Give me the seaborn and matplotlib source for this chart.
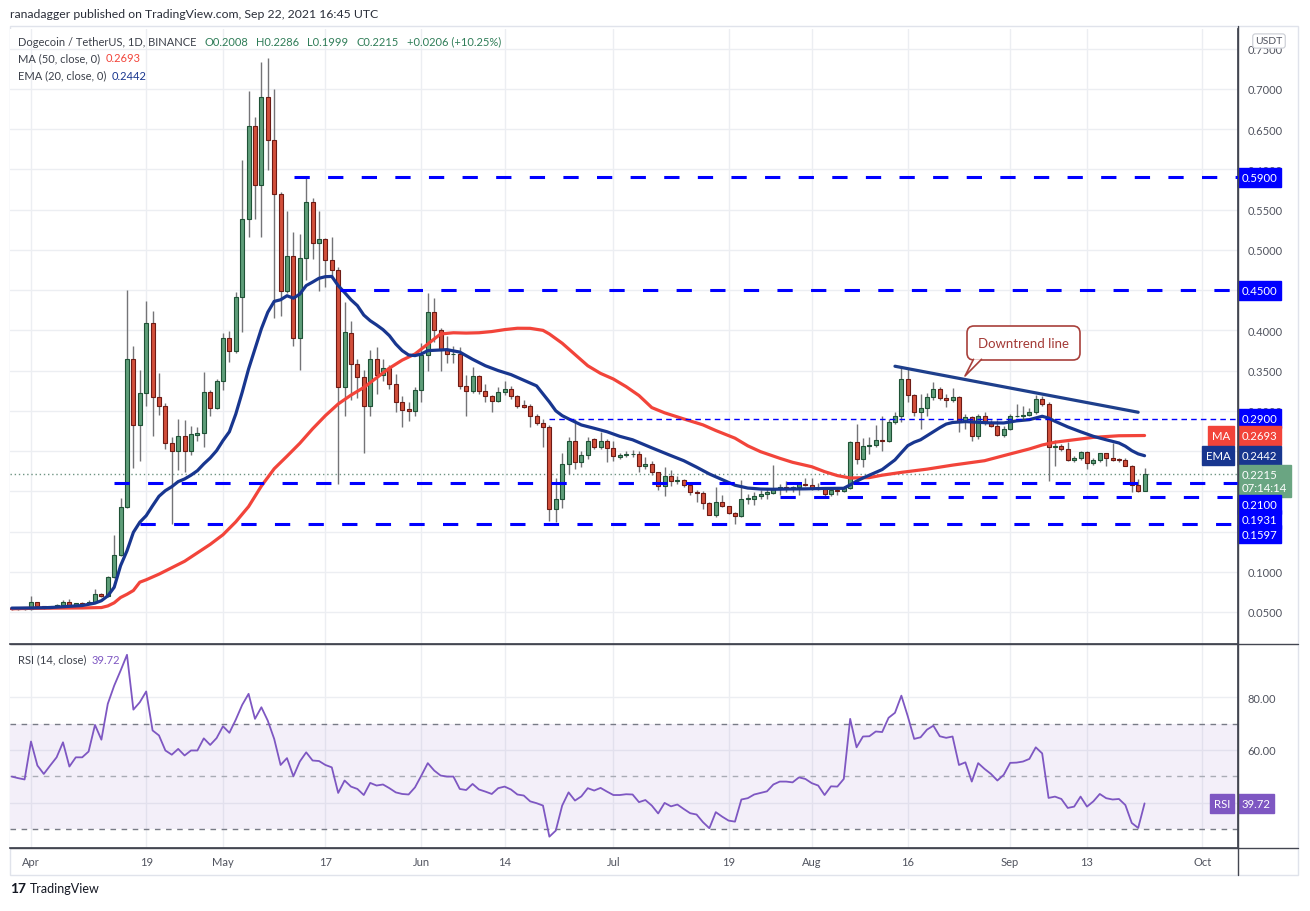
import matplotlib
matplotlib.use("Agg")
import matplotlib.pyplot as plt
from matplotlib.patches import FancyBboxPatch, Polygon, Rectangle
from matplotlib.lines import Line2D
import numpy as np
import pandas as pd
import seaborn as sns

# daily candles, 2021-03-29 .. 2021-09-22
open_ = [.0545, .0540, .0545, .0540, .0620, .0570, .0550, .0570, .0590, .0630,
         .0590, .0610, .0600, .0630, .0725, .0700, .0940, .1205, .1810, .3650,
         .2820, .3220, .4090, .3170, .3060, .2600, .2500, .2690, .2500, .2700,
         .2720, .3230, .3040, .3370, .3900, .3740, .4410, .5380, .6540, .5810,
         .6900, .6370, .5700, .4490, .4930, .3910, .4900, .5590, .5080, .5140,
         .4870, .4750, .3290, .3970, .3580, .3420, .3060, .3650, .3450, .3530,
         .3330, .3110, .3020, .3000, .3255, .3690, .4225, .4000, .3760, .3700,
         .3710, .3305, .3250, .3430, .3250, .3180, .3120, .3230, .3270, .3190,
         .3070, .3060, .2930, .2845, .2800, .1780, .1900, .2335, .2630, .2370,
         .2450, .2646, .2555, .2630, .2534, .2430, .2450, .2460, .2460, .2310,
         .2340, .2236, .2060, .2186, .2132, .2145, .2078, .1990, .1977, .1855,
         .1710, .1863, .1813, .1726, .1697, .1904, .1910, .1940, .1967, .1980,
         .2030, .2050, .2045, .2050, .2090, .2075, .2037, .2030, .1960, .2016,
         .2000, .2037, .2610, .2400, .2560, .2575, .2640, .2630, .2857, .2930,
         .3396, .3197, .2980, .3035, .3168, .3270, .3155, .3140, .3168, .2878,
         .2920, .2683, .2940, .2850, .2810, .2704, .2774, .2930, .2940, .2950,
         .2980, .3147, .3085, .2547, .2560, .2526, .2390, .2410, .2490, .2352,
         .2393, .2470, .2410, .2400, .2393, .2318, .2078, .2008]
high_ = [.0560, .0555, .0550, .0700, .0630, .0580, .0575, .0595, .0650, .0660,
         .0615, .0625, .0650, .0790, .0740, .0950, .1457, .1920, .4500, .3800,
         .3510, .4360, .4240, .3470, .3100, .2680, .2900, .2890, .2810, .2800,
         .3480, .3260, .3400, .3970, .3990, .4480, .6120, .6970, .6650, .7330,
         .7390, .7000, .5720, .5480, .5220, .5200, .5890, .5640, .5480, .5150,
         .5160, .4790, .4350, .4110, .3640, .3510, .3750, .3790, .3640, .3570,
         .3460, .3180, .3110, .3300, .3840, .4470, .4400, .4030, .3930, .3800,
         .3790, .3440, .3540, .3440, .3330, .3200, .3290, .3375, .3310, .3200,
         .3130, .3080, .2960, .2900, .2820, .2170, .2480, .2680, .2900, .2500,
         .2670, .2660, .2740, .2650, .2620, .2480, .2500, .2510, .2500, .2420,
         .2380, .2236, .2300, .2270, .2186, .2150, .2090, .2010, .2000, .1870,
         .2050, .1950, .1820, .1740, .2140, .1960, .1990, .2010, .2030, .2327,
         .2090, .2130, .2070, .2110, .2160, .2170, .2100, .2035, .2035, .2035,
         .2070, .2630, .2840, .2660, .2670, .2820, .2940, .2900, .2990, .3540,
         .3520, .3210, .3210, .3220, .3360, .3290, .3210, .3280, .3190, .2960,
         .2940, .2960, .2990, .2890, .2890, .2810, .2960, .3085, .3055, .3040,
         .3197, .3190, .3115, .2642, .2590, .2610, .2440, .2500, .2500, .2410,
         .2480, .2480, .2600, .2410, .2410, .2330, .2152, .2286]
low_ = [.0530, .0530, .0520, .0530, .0560, .0540, .0545, .0565, .0585, .0570,
        .0585, .0595, .0595, .0620, .0690, .0690, .0920, .1190, .1790, .2290,
        .2380, .3060, .2690, .2950, .2520, .1590, .2270, .2240, .2455, .2620,
        .2550, .2940, .3020, .3260, .3610, .3720, .3980, .5160, .5380, .5160,
        .5990, .4150, .4180, .4470, .3810, .3510, .4630, .4890, .4490, .4540,
        .4680, .2090, .2930, .3130, .3160, .2470, .2940, .3210, .3370, .3270,
        .2990, .2800, .2870, .2930, .3110, .3500, .3860, .3490, .3590, .3600,
        .3270, .2940, .3220, .3210, .3110, .2990, .3110, .3200, .3150, .3040,
        .3040, .2795, .2820, .2550, .1635, .1620, .1790, .2215, .2280, .2300,
        .2400, .2530, .2530, .2368, .2380, .2400, .2430, .2420, .2244, .2280,
        .2200, .2010, .1946, .2070, .2090, .2050, .1954, .1863, .1780, .1700,
        .1677, .1800, .1720, .1594, .1677, .1840, .1830, .1900, .1900, .1970,
        .1950, .1990, .1990, .1950, .2060, .2020, .2010, .1925, .1946, .1950,
        .1990, .2030, .2340, .2300, .2460, .2550, .2505, .2610, .2840, .2857,
        .3106, .2940, .2774, .2940, .3135, .3130, .3050, .3110, .2733, .2770,
        .2630, .2650, .2820, .2800, .2690, .2680, .2758, .2920, .2900, .2940,
        .2960, .3055, .2132, .2318, .2500, .2380, .2370, .2390, .2277, .2330,
        .2370, .2318, .2380, .2370, .2310, .1987, .1985, .1999]
close_ = [.0540, .0545, .0540, .0620, .0570, .0550, .0570, .0590, .0630, .0590,
          .0610, .0600, .0630, .0725, .0700, .0940, .1205, .1810, .3650, .2820,
          .3220, .4090, .3170, .3060, .2600, .2500, .2690, .2500, .2710, .2720,
          .3230, .3040, .3370, .3900, .3740, .4410, .5380, .6540, .5810, .6900,
          .6370, .5700, .4490, .4930, .3910, .4900, .5590, .5080, .5140, .4870,
          .4750, .3290, .3980, .3580, .3420, .3060, .3650, .3450, .3530, .3330,
          .3110, .3010, .3000, .3255, .3690, .4225, .4000, .3760, .3700, .3710,
          .3305, .3250, .3430, .3250, .3180, .3120, .3230, .3270, .3190, .3060,
          .3050, .2930, .2845, .2795, .1780, .1900, .2335, .2630, .2370, .2450,
          .2630, .2555, .2630, .2534, .2435, .2450, .2460, .2465, .2310, .2340,
          .2236, .2060, .2186, .2132, .2145, .2078, .1987, .1977, .1855, .1710,
          .1863, .1813, .1726, .1697, .1904, .1910, .1940, .1967, .1987, .2030,
          .2050, .2045, .2048, .2090, .2075, .2037, .2030, .1960, .2016, .2000,
          .2037, .2610, .2400, .2560, .2575, .2640, .2630, .2857, .2930, .3396,
          .3197, .2980, .3035, .3168, .3270, .3155, .3140, .3168, .2878, .2920,
          .2683, .2940, .2850, .2810, .2704, .2774, .2930, .2940, .2950, .2980,
          .3147, .3085, .2547, .2560, .2526, .2390, .2410, .2490, .2352, .2393,
          .2470, .2410, .2393, .2393, .2318, .2078, .2008, .2215]

rsi_vals = [49.9, 49.3, 48.8, 63.2, 54.1, 50.9, 54.1, 57.2, 62.9, 53.7,
            57.2, 57.2, 59.4, 69.5, 63.9, 77.5, 84.4, 90.1, 96.1, 75.3,
            78.1, 82.2, 67.4, 65.5, 59.8, 58.2, 60.4, 57.9, 59.8, 59.8,
            64.4, 61.9, 64.5, 69.0, 66.5, 71.5, 77.1, 81.3, 71.8, 76.2,
            71.1, 64.2, 54.3, 56.9, 50.0, 55.6, 59.1, 56.0, 55.8, 54.3,
            53.4, 43.7, 48.4, 46.1, 45.2, 42.9, 47.5, 46.5, 46.9, 45.5,
            43.9, 43.3, 43.1, 45.8, 50.3, 55.0, 52.2, 50.3, 49.9, 49.9,
            45.2, 44.8, 47.1, 45.0, 44.2, 43.3, 45.5, 46.1, 45.0, 43.1,
            42.7, 40.5, 39.8, 38.9, 27.1, 29.4, 38.9, 43.9, 40.8, 42.4,
            45.5, 44.6, 45.6, 44.2, 42.9, 42.9, 43.2, 43.1, 40.2, 41.0,
            38.9, 35.9, 39.9, 38.6, 39.3, 37.6, 36.0, 35.5, 32.6, 30.3,
            36.4, 34.7, 33.2, 32.8, 41.2, 41.7, 43.1, 43.7, 44.3, 46.9,
            48.0, 48.0, 47.7, 49.6, 49.0, 47.4, 46.5, 42.9, 46.2, 46.1,
            49.0, 71.8, 61.0, 65.1, 65.2, 67.0, 66.8, 72.2, 74.1, 80.6,
            72.8, 64.2, 64.8, 67.7, 69.2, 65.2, 64.6, 65.1, 54.3, 55.3,
            48.0, 55.0, 52.8, 50.9, 48.4, 50.6, 55.1, 55.2, 55.6, 56.6,
            61.0, 58.7, 41.8, 42.3, 41.4, 38.0, 38.5, 42.3, 38.5, 40.5,
            43.3, 41.7, 41.2, 41.4, 39.1, 32.3, 30.4, 39.72]

# moving averages (day offset from Apr 1, value)
ema_days = [-3, 0, 3, 6, 8, 10, 11, 12, 13, 14, 15, 16, 17, 18, 19, 20, 21, 22, 23, 24,
            25, 26, 27, 28, 29, 30, 31, 32, 33, 34, 35, 36, 37, 38, 39, 40, 41, 42, 43, 44,
            45, 46, 47, 48, 49, 50, 51, 52, 53, 54, 55, 56, 57, 58, 59, 60, 61, 62, 63, 65,
            67, 69, 71, 73, 75, 77, 79, 81, 82, 83, 84, 86, 88, 90, 92, 94, 97, 100, 102, 104,
            106, 108, 110, 112, 114, 116, 118, 121, 124, 127, 128, 129, 130, 131, 132, 133, 134, 135, 136, 137,
            138, 139, 140, 141, 142, 143, 144, 146, 148, 150, 152, 154, 156, 158, 159, 160, 162, 164, 166, 168,
            170, 171, 172, 173, 174]
ema_vals = [.0548, .0550, .0555, .0570, .0580, .0610, .0640, .0700, .0807, .1076, .1260, .1490, .1615, .1697, .1820, .1938, .2008, .2057, .2120, .2153,
            .2200, .2256, .2340, .2414, .2505, .2630, .2740, .2960, .3230, .3520, .3770, .4020, .4225, .4360, .4380, .4430, .4400, .4450, .4556, .4600,
            .4647, .4667, .4670, .4556, .4470, .4380, .4307, .4190, .4120, .4067, .4009, .3934, .3830, .3748, .3694, .3686, .3706, .3748, .3752, .3760,
            .3730, .3640, .3560, .3500, .3450, .3380, .3310, .3110, .3000, .2940, .2900, .2824, .2783, .2740, .2683, .2640, .2540, .2443, .2380, .2300,
            .2215, .2145, .2075, .2040, .2028, .2025, .2028, .2030, .2035, .2037, .2080, .2125, .2165, .2200, .2235, .2270, .2330, .2390, .2480, .2567,
            .2610, .2640, .2690, .2740, .2790, .2835, .2855, .2866, .2857, .2850, .2849, .2875, .2890, .2932, .2910, .2870, .2800, .2740, .2683, .2640,
            .2600, .2560, .2505, .2465, .2442]
ma_days = [-3, 0, 4, 8, 11, 12, 13, 14, 15, 16, 17, 18, 20, 22, 24, 26, 28, 30, 32, 34,
           36, 38, 40, 42, 44, 46, 48, 50, 52, 54, 56, 58, 60, 62, 64, 66, 68, 70, 72, 74,
           76, 78, 80, 81, 83, 85, 87, 89, 91, 93, 95, 97, 99, 102, 105, 107, 110, 112, 114, 117,
           119, 122, 124, 126, 128, 131, 133, 136, 140, 144, 149, 153, 156, 158, 160, 163, 166, 170, 174]
ma_vals = [.0540, .0545, .0548, .0550, .0555, .0575, .0614, .0680, .0720, .0767, .0870, .0900, .0970, .1050, .1130, .1235, .1340, .1460, .1620, .1810,
           .2065, .2280, .2436, .2596, .2776, .2940, .3085, .3195, .3290, .3410, .3530, .3630, .3706, .3830, .3955, .3970, .3966, .3970, .3985, .4009,
           .4026, .4025, .4000, .3955, .3840, .3700, .3560, .3465, .3395, .3300, .3190, .3040, .2975, .2899, .2825, .2755, .2660, .2565, .2492, .2410,
           .2360, .2305, .2244, .2195, .2165, .2170, .2200, .2235, .2275, .2325, .2380, .2464, .2526, .2575, .2610, .2640, .2670, .2690, .2693]

# horizontal levels: value, first day drawn (offset from Apr 1)
level_vals = [0.5900, 0.4500, 0.2100, 0.1931, 0.1597]
level_start = [41.1, 48.3, 13.0, 117.0, 17.0]
thin_level = 0.2900
thin_start = 81.0
trend_days = [135, 173]
trend_vals = [0.3554, 0.2982]

price_ticks = [0.05, 0.10, 0.15, 0.20, 0.25, 0.30, 0.35, 0.40, 0.45, 0.50, 0.55, 0.60, 0.65, 0.70, 0.75]
# labels that sit under a tag box are not shown on the original
price_tick_labels = ["0.0500", "0.1000", "", "", "", "0.3000", "0.3500", "0.4000", "",
                     "0.5000", "0.5500", "0.6000", "0.6500", "0.7000", "0.7500"]
tick_dates = ["2021-04-01", "2021-04-19", "2021-05-01", "2021-05-17", "2021-06-01", "2021-06-14",
              "2021-07-01", "2021-07-19", "2021-08-01", "2021-08-16", "2021-09-01", "2021-09-13", "2021-10-01"]
tick_labels = ["Apr", "19", "May", "17", "Jun", "14", "Jul", "19", "Aug", "16", "Sep", "13", "Oct"]

W, H = 1310, 912
GREEN, GREEN_EDGE = "#5e9e79", "#1f5236"
RED, RED_EDGE = "#d24f3b", "#6e1b15"
MA_RED, EMA_BLUE, LEVEL_BLUE, RSI_PURPLE = "#f2443a", "#18368f", "#0000ff", "#7e57c2"
AXIS_DARK, TXT = "#434651", "#50535e"


def fx(px):
    return px / W


def fy(py):
    return 1 - py / H


def px_to_in(x, y):
    return x / 100, (H - y) / 100


day0 = pd.Timestamp("2021-04-01")
dates = pd.date_range("2021-03-29", periods=len(close_), freq="D")
o, h, l, c = (np.array(v) for v in (open_, high_, low_, close_))
up = c >= o
body_lo = np.minimum(o, c)
body_h = np.maximum(np.abs(c - o), 0.0009)
ema_dates = day0 + pd.to_timedelta(ema_days, unit="D")
ma_dates = day0 + pd.to_timedelta(ma_days, unit="D")
x0 = day0 + pd.Timedelta(days=-3.28)
x1 = day0 + pd.Timedelta(days=188.6)

sns.set_theme(style="white")
plt.rcParams["font.family"] = ["Lato", "DejaVu Sans"]

fig = plt.figure(figsize=(W / 100, H / 100), dpi=100)
ax = fig.add_axes([fx(10), fy(645), (1238 - 10) / W, 615 / H])
axr = fig.add_axes([fx(10), fy(849), (1238 - 10) / W, 204 / H], sharex=ax)

# ---- price panel
ax.vlines(dates, l, h, color="#747477", lw=1, zorder=2)
ax.bar(dates[up], body_h[up], bottom=body_lo[up], width=0.62, color=GREEN,
       edgecolor=GREEN_EDGE, linewidth=0.8, zorder=3)
ax.bar(dates[~up], body_h[~up], bottom=body_lo[~up], width=0.62, color=RED,
       edgecolor=RED_EDGE, linewidth=0.8, zorder=3)
sns.lineplot(x=ma_dates, y=ma_vals, ax=ax, color=MA_RED, linewidth=2.3, zorder=4)
sns.lineplot(x=ema_dates, y=ema_vals, ax=ax, color=EMA_BLUE, linewidth=2.3, zorder=4)
sns.lineplot(x=day0 + pd.to_timedelta(trend_days, unit="D"), y=trend_vals, ax=ax,
             color="#1e3f8c", linewidth=2.3, zorder=5)

for v, s in zip(level_vals, level_start):
    ax.hlines(v, day0 + pd.Timedelta(days=s), x1, color=LEVEL_BLUE, lw=2.2,
              linestyles=[(0, (5, 6))], zorder=5)
ax.hlines(thin_level, day0 + pd.Timedelta(days=thin_start), x1, color=LEVEL_BLUE, lw=1.0,
          linestyles=[(0, (4, 3))], zorder=5)
ax.axhline(close_[-1], color="#6f9483", lw=1, ls=(0, (1, 2)), zorder=1)

ax.set_xlim(x0, x1)
ax.set_ylim(0.0102, 0.7745)
ax.set_yticks(price_ticks)
ax.set_yticklabels(price_tick_labels)
ax.yaxis.tick_right()
ax.set_xticks(pd.to_datetime(tick_dates))
ax.tick_params(axis="y", length=0, pad=7, labelsize=8, labelcolor=TXT)
ax.tick_params(axis="x", length=0, labelbottom=False)
ax.grid(True, color="#eceef2", lw=1)
ax.set_axisbelow(True)
ax.set_xlabel("")
ax.set_ylabel("")
for name, sp in ax.spines.items():
    sp.set_visible(name == "right")
ax.spines["right"].set_color(AXIS_DARK)

# ---- RSI panel
axr.axhspan(30, 70, color=RSI_PURPLE, alpha=0.09, lw=0)
axr.axhline(70, color="#787b86", lw=1, ls=(0, (4, 4)))
axr.axhline(50, color="#a9acb5", lw=1, ls=(0, (4, 4)))
axr.axhline(30, color="#787b86", lw=1, ls=(0, (4, 4)))
sns.lineplot(x=dates, y=rsi_vals, ax=axr, color=RSI_PURPLE, linewidth=1.3, zorder=4)
axr.set_ylim(22.8, 100.2)
axr.set_yticks([40, 60, 80])
axr.set_yticklabels(["", "60.00", "80.00"])
axr.yaxis.tick_right()
axr.set_xticks(pd.to_datetime(tick_dates))
axr.set_xticklabels(tick_labels)
axr.tick_params(axis="y", length=0, pad=7, labelsize=8, labelcolor=TXT)
axr.tick_params(axis="x", length=0, pad=6, labelsize=8, labelcolor=TXT)
axr.grid(True, color="#eceef2", lw=1)
axr.set_axisbelow(True)
axr.set_xlabel("")
axr.set_ylabel("")
for name, sp in axr.spines.items():
    sp.set_visible(name in ("right", "top", "bottom"))
    sp.set_color(AXIS_DARK)
axr.set_xlim(x0, x1)


# ---- axis tags
def tag(axis, value, text, color, dy=0.0, left=False, size=8.2, ls=1.2):
    off = (-7.5 if left else 3.5) * 0.72
    axis.annotate(text, xy=(1, value), xycoords=axis.get_yaxis_transform(),
                  xytext=(off, -dy * 0.72), textcoords="offset points",
                  ha="right" if left else "left", va="center", fontsize=size,
                  color="white", annotation_clip=False, linespacing=ls, zorder=20,
                  bbox=dict(boxstyle="square,pad=0.35", fc=color, ec=color))


tag(ax, 0.5900, "0.5900", LEVEL_BLUE)
tag(ax, 0.4500, "0.4500", LEVEL_BLUE)
tag(ax, 0.2900, "0.2900", LEVEL_BLUE)
tag(ax, ma_vals[-1], "0.2693", MA_RED)
tag(ax, ma_vals[-1], "MA", MA_RED, left=True)
tag(ax, ema_vals[-1], "0.2442", EMA_BLUE)
tag(ax, ema_vals[-1], "EMA", EMA_BLUE, left=True)
tag(ax, close_[-1], "0.2215\n07:14:14", "#6aa582", dy=7, ls=1.25)
tag(ax, 0.2100, "0.2100", LEVEL_BLUE, dy=21)
tag(ax, 0.1931, "0.1931", LEVEL_BLUE, dy=22.4)
tag(ax, 0.1597, "0.1597", LEVEL_BLUE, dy=10.3)
tag(axr, rsi_vals[-1], "39.72", RSI_PURPLE)
tag(axr, rsi_vals[-1], "RSI", RSI_PURPLE, left=True)

# ---- frame lines
fig.add_artist(Rectangle(px_to_in(10, 876), 12.88, 8.49, transform=fig.dpi_scale_trans,
                         fill=False, ec="#e0e3eb", lw=1, zorder=0))
for (xa, ya), (xb, yb) in [((10, 645), (1298, 645)), ((10, 849), (1298, 849)),
                           ((1238, 27), (1238, 876))]:
    pa, pb = px_to_in(xa, ya), px_to_in(xb, yb)
    fig.add_artist(Line2D([pa[0], pb[0]], [pa[1], pb[1]], transform=fig.dpi_scale_trans,
                          color=AXIS_DARK, lw=1))

# ---- texts
renderer = fig.canvas.get_renderer()


def text_run(x_px, y_px, parts, size, gap=8):
    x = x_px
    for s, col in parts:
        t = fig.text(fx(x), fy(y_px), s, color=col, fontsize=size, va="center", ha="left")
        x += t.get_window_extent(renderer=renderer).width + gap


fig.text(fx(10), fy(14), "ranadagger published on TradingView.com, Sep 22, 2021 16:45 UTC",
         fontsize=8.8, color="#2a2e39", va="center")
ohlc_green = "#2f7d58"
text_run(18, 42, [("Dogecoin / TetherUS, 1D, BINANCE", "#3c404a"), ("O0.2008", ohlc_green),
                  ("H0.2286", ohlc_green), ("L0.1999", ohlc_green), ("C0.2215", ohlc_green),
                  ("+0.0206 (+10.25%)", ohlc_green)], 8)
text_run(18, 59, [("MA (50, close, 0)", "#3c404a"), ("0.2693", MA_RED)], 8, gap=5)
text_run(18, 76, [("EMA (20, close, 0)", "#3c404a"), ("0.2442", EMA_BLUE)], 8, gap=5)
text_run(18, 660, [("RSI (14, close)", "#3c404a"), ("39.72", RSI_PURPLE)], 8, gap=5)

fig.text(fx(1269), fy(42), "USDT", fontsize=7.5, color=TXT, ha="center", va="center",
         bbox=dict(boxstyle="round,pad=0.25", fc="white", ec="#c9ccd3", lw=0.8))

# callout
fig.add_artist(FancyBboxPatch(px_to_in(967, 361), 1.13, 0.34, transform=fig.dpi_scale_trans,
                              boxstyle="round,pad=0,rounding_size=0.07", fc="white",
                              ec="#a8403b", lw=1.2, zorder=6))
tail = [px_to_in(973.5, 360.3), px_to_in(965, 377), px_to_in(981.5, 360.3)]
fig.add_artist(Polygon(tail, closed=True, transform=fig.dpi_scale_trans, fc="white",
                       ec="none", zorder=7))
fig.add_artist(Line2D([p[0] for p in tail], [p[1] for p in tail],
                      transform=fig.dpi_scale_trans, color="#a8403b", lw=1.2, zorder=8))
fig.text(fx(1023), fy(344), "Downtrend line", fontsize=9.5, color="#a33a36",
         ha="center", va="center", zorder=9)

fig.text(fx(10), fy(889), "17", fontsize=10, fontweight="bold", color="#131722", va="center")
fig.text(fx(30), fy(889), "TradingView", fontsize=9, color="#131722", va="center")

fig.savefig("out.png", dpi=100)
